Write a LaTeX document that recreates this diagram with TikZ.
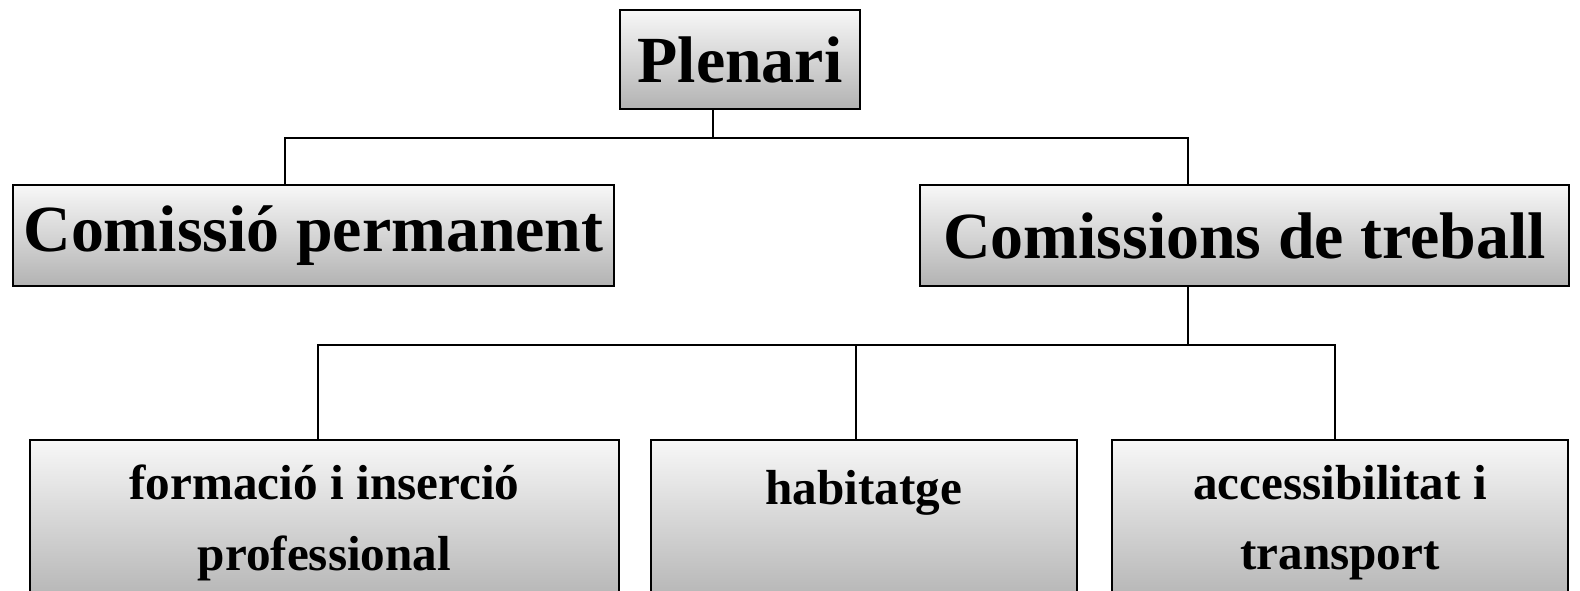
\documentclass[tikz,border=0pt]{standalone}
\usepackage{fontspec}
\setmainfont{Liberation Serif}
\begin{document}
\begin{tikzpicture}[x=0.02cm, y=-0.02cm,
    box/.style={draw, line width=1.3pt, top color=gray!6, bottom color=gray!60,
      inner sep=0pt, font=\bfseries\fontsize{37.5}{40}\selectfont},
    subbox/.style={box, align=center, minimum height=166*0.02cm,
      font=\bfseries\fontsize{28}{40}\selectfont},
    link/.style={line width=1.1pt}]
  \useasboundingbox (0,0) rectangle (1580,591);
  \clip (0,0) rectangle (1580,591);
  % top level
  \node[box, minimum width=240*0.02cm, minimum height=99*0.02cm] (plenari) at (740,59.5) {Plenari};
  \node[box, minimum width=601*0.02cm, minimum height=101*0.02cm] (cp) at (313.5,235.5) {Comissió permanent};
  \node[box, minimum width=649*0.02cm, minimum height=101*0.02cm] (ct) at (1244.5,235.5) {Comissions de treball};
  % working groups
  \foreach \n/\x/\w/\t in {fo/324.5/589/{formació i inserció\\professional},
      ha/864/426/{habitatge\\\mbox{}}, ac/1340/456/{accessibilitat i\\transport}}{
    \node[subbox, minimum width=\w*0.02cm] (\n) at (\x,523) {\t};
  }
  % joints
  \coordinate (jtop) at (713,138);
  \coordinate (dcp) at (285,138);
  \coordinate (dct) at (1188,138);
  \coordinate (jmid) at (1188,345);
  \coordinate (dfo) at (318,345);
  \coordinate (dha) at (856,345);
  \coordinate (dac) at (1335,345);
  \draw[link] (plenari.south -| jtop) -- (jtop);
  \draw[link] (cp.north -| dcp) -- (dcp) -- (dct) -- (ct.north -| dct);
  \draw[link] (ct.south -| jmid) -- (jmid);
  \draw[link] (fo.north -| dfo) -- (dfo) -- (dac) -- (ac.north -| dac);
  \draw[link] (ha.north -| dha) -- (dha);
\end{tikzpicture}
\end{document}
